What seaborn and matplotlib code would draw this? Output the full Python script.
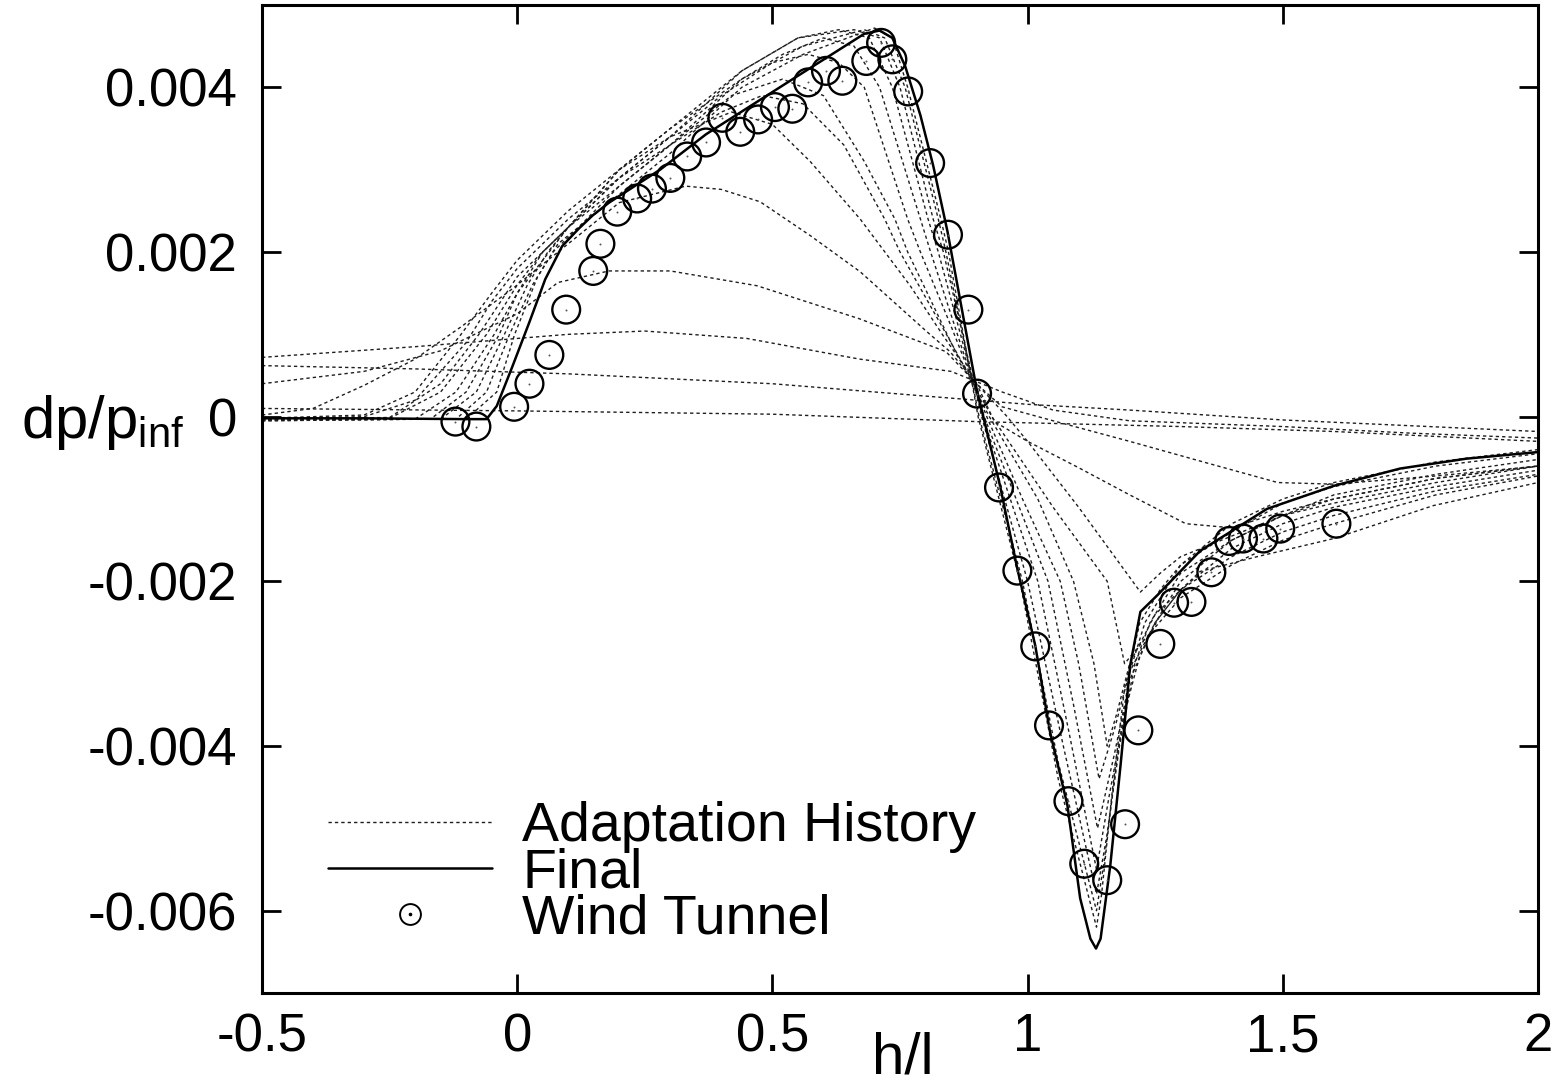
import numpy as np
import pandas as pd
import matplotlib
matplotlib.use("Agg")
import matplotlib.pyplot as plt
import seaborn as sns
from matplotlib.lines import Line2D
from matplotlib.legend_handler import HandlerTuple

# ---------------- data ----------------
final_x = [-0.5, -0.3, -0.1, -0.06, -0.04, -0.01, 0.024, 0.055, 0.088, 0.12, 0.147, 0.18, 0.28,
           0.37, 0.55, 0.68, 0.71, 0.735, 0.76, 0.79, 0.815, 0.843, 0.9, 0.946, 0.98, 1.015,
           1.044, 1.078, 1.103, 1.123, 1.134, 1.143, 1.162, 1.182, 1.201, 1.221, 1.254, 1.338,
           1.469, 1.6, 1.73, 1.86, 2.0]
final_y = [-0.00002, -0.00002, -0.00003, -0.00003, 0.00013, 0.0006, 0.00115, 0.00167, 0.00207,
           0.00228, 0.00244, 0.0026, 0.0030, 0.00343, 0.00414, 0.00465, 0.00469, 0.0046, 0.00426,
           0.00366, 0.00305, 0.00225, 0.00034, -0.00084, -0.00185, -0.00278, -0.00383, -0.00472,
           -0.00585, -0.00634, -0.00646, -0.00634, -0.00545, -0.00424, -0.00302, -0.00237,
           -0.00217, -0.00163, -0.00112, -0.00084, -0.00063, -0.00051, -0.00043]

wt_x = [-0.121, -0.080, -0.006, 0.024, 0.063, 0.096, 0.149, 0.163, 0.196, 0.235, 0.264, 0.300,
        0.333, 0.370, 0.402, 0.437, 0.472, 0.505, 0.539, 0.570, 0.605, 0.637, 0.684, 0.713,
        0.735, 0.766, 0.809, 0.844, 0.884, 0.901, 0.944, 0.980, 1.015, 1.042, 1.080, 1.111,
        1.156, 1.191, 1.217, 1.260, 1.287, 1.321, 1.360, 1.395, 1.422, 1.462, 1.495, 1.605]
wt_y = [-0.00006, -0.00012, 0.00012, 0.0004, 0.00075, 0.0013, 0.00177, 0.0021, 0.00249, 0.00265,
        0.00277, 0.0029, 0.00316, 0.00333, 0.00363, 0.00346, 0.00361, 0.00376, 0.00374, 0.00406,
        0.0042, 0.00408, 0.00432, 0.00454, 0.00434, 0.00395, 0.00308, 0.00221, 0.0013, 0.00028,
        -0.00086, -0.00187, -0.00279, -0.00375, -0.00467, -0.00543, -0.00563, -0.00495, -0.00381,
        -0.00276, -0.00226, -0.00225, -0.00189, -0.00151, -0.00148, -0.00148, -0.00136, -0.0013]

# adaptation history (one pair of lists per intermediate solution)
h1_x = [-0.5, 0.0, 0.5, 0.9, 1.3, 1.6, 2.0]
h1_y = [0.00010, 0.00007, 0.00003, -0.00006, -0.00012, -0.00018, -0.00030]

h2_x = [-0.5, -0.2, 0.1, 0.5, 0.86, 1.0, 1.2, 1.5, 2.0]
h2_y = [0.00062, 0.00058, 0.00052, 0.00040, 0.00022, 0.00015, 0.00008, -0.00004, -0.00018]

h3_x = [-0.5, -0.2, 0.1, 0.25, 0.45, 0.67, 0.85, 0.95, 1.05, 1.2, 1.5, 1.75, 2.0]
h3_y = [0.00072, 0.00085, 0.00100, 0.00104, 0.00095, 0.00070, 0.00055, 0.00030, 0.00008,
        -0.00005, -0.00012, -0.00020, -0.00026]

h4_x = [-0.5, -0.3, -0.15, 0.0, 0.08, 0.18, 0.3, 0.47, 0.67, 0.84, 0.9, 0.95, 1.05, 1.2, 1.35,
        1.49, 1.6, 1.8, 2.0]
h4_y = [0.0004, 0.00055, 0.0008, 0.00125, 0.00163, 0.00177, 0.00177, 0.00159, 0.00119, 0.00079,
        0.0004, 0.00012, -0.00005, -0.0003, -0.00056, -0.0008, -0.00082, -0.00072, -0.0006]

h5_x = [-0.5, -0.4, -0.3, -0.2, -0.108, -0.01, 0.1, 0.2, 0.33, 0.4, 0.476, 0.574, 0.672, 0.803,
        0.848, 0.9, 0.935, 1.0, 1.1, 1.2, 1.31, 1.4, 1.5, 1.6, 1.8, 2.0]
h5_y = [0.00002, 0.0001, 0.00038, 0.0007, 0.0011, 0.00155, 0.0021, 0.0026, 0.0028, 0.00276,
        0.00261, 0.0022, 0.00176, 0.00103, 0.00079, 0.0004, -0.00006, -0.0003, -0.00062, -0.00095,
        -0.0013, -0.00135, -0.00115, -0.001, -0.00075, -0.0006]

h6_x = [-0.5, -0.3, -0.2, -0.11, -0.05, 0.0, 0.05, 0.1, 0.2, 0.3, 0.42, 0.5, 0.574, 0.672, 0.77,
        0.835, 0.9, 0.96, 1.0, 1.1, 1.221, 1.26, 1.3, 1.4, 1.5, 1.6, 1.8, 2.0]
h6_y = [-0.00002, 0.00002, 0.0003, 0.001, 0.0015, 0.0019, 0.0022, 0.0025, 0.003, 0.0034, 0.0037,
        0.00355, 0.0031, 0.0024, 0.00159, 0.00098, 0.0004, 0.0, -0.0003, -0.0011, -0.00213,
        -0.0019, -0.0017, -0.00145, -0.0012, -0.00105, -0.0008, -0.0006]

h7_x = [-0.5, -0.3, -0.2, -0.1, -0.05, 0.0, 0.1, 0.2, 0.3, 0.4, 0.48, 0.56, 0.64, 0.72, 0.75,
        0.85, 0.93, 1.05, 1.156, 1.19, 1.23, 1.3, 1.4, 1.5, 1.6, 1.8, 2.0]
h7_y = [-0.00002, 0.0, 0.0002, 0.0009, 0.0014, 0.0018, 0.0024, 0.0029, 0.0033, 0.0037, 0.0039,
        0.0038, 0.0033, 0.0024, 0.002, 0.0009, 0.0, -0.0011, -0.002, -0.003, -0.0027, -0.0022,
        -0.0018, -0.0015, -0.0013, -0.00095, -0.00072]

h8_x = [-0.5, -0.25, -0.15, -0.075, 0.0, 0.1, 0.2, 0.3, 0.42, 0.52, 0.6, 0.68, 0.74, 0.765, 0.85,
        0.925, 1.02, 1.09, 1.13, 1.156, 1.175, 1.2, 1.25, 1.338, 1.45, 1.6, 1.795, 2.0]
h8_y = [-0.00003, -0.00001, 0.0004, 0.001, 0.0017, 0.0023, 0.0028, 0.0033, 0.0039, 0.0041, 0.0039,
        0.0031, 0.0024, 0.002, 0.0009, 0.0, -0.001, -0.002, -0.003, -0.004, -0.0036, -0.003,
        -0.0024, -0.00188, -0.0017, -0.00148, -0.00108, -0.0008]

h9_x = [-0.5, -0.25, -0.15, -0.06, 0.0, 0.05, 0.1, 0.2, 0.3, 0.4, 0.5, 0.57, 0.63, 0.68, 0.765,
        0.79, 0.85, 0.92, 0.99, 1.064, 1.1, 1.14, 1.17, 1.2, 1.25, 1.3, 1.4, 1.5, 1.6, 1.8, 2.0]
h9_y = [-0.00004, -0.00002, 0.0003, 0.001, 0.0016, 0.002, 0.0023, 0.0029, 0.0034, 0.0039, 0.0043,
        0.0044, 0.0043, 0.004, 0.0024, 0.002, 0.0011, 0.0, -0.001, -0.002, -0.003, -0.0044,
        -0.0038, -0.0031, -0.0025, -0.0021, -0.0017, -0.0014, -0.0012, -0.0009, -0.0007]

h10_x = [-0.5, -0.2, -0.12, -0.045, 0.0, 0.05, 0.1, 0.2, 0.3, 0.44, 0.52, 0.6, 0.66, 0.71, 0.79,
         0.81, 0.915, 1.04, 1.09, 1.137, 1.17, 1.2, 1.25, 1.3, 1.4, 1.5, 1.6, 1.8, 2.0]
h10_y = [-0.00005, -0.00003, 0.0003, 0.001, 0.0015, 0.0019, 0.0023, 0.003, 0.0035, 0.0041, 0.0044,
         0.0046, 0.0045, 0.004, 0.0024, 0.002, 0.0, -0.002, -0.0035, -0.005, -0.0041, -0.0032,
         -0.0025, -0.0021, -0.0016, -0.0013, -0.0011, -0.00085, -0.00065]

h11_x = [-0.5, -0.17, -0.1, -0.035, 0.0, 0.05, 0.1, 0.2, 0.3, 0.44, 0.55, 0.63, 0.69, 0.735, 0.805,
         0.825, 0.912, 1.02, 1.08, 1.135, 1.16, 1.19, 1.22, 1.26, 1.3, 1.4, 1.5, 1.6, 1.8, 2.0]
h11_y = [-0.00005, -0.00003, 0.0003, 0.001, 0.0015, 0.002, 0.0023, 0.003, 0.0035, 0.0042, 0.0046,
         0.0047, 0.0046, 0.004, 0.0024, 0.002, 0.0, -0.002, -0.0038, -0.0055, -0.0046, -0.0036,
         -0.0029, -0.0024, -0.002, -0.0015, -0.0012, -0.001, -0.00075, -0.0006]

h12_x = [-0.5, -0.15, -0.08, -0.025, 0.02, 0.06, 0.1, 0.2, 0.3, 0.44, 0.55, 0.66, 0.71, 0.75,
         0.815, 0.835, 0.91, 1.0, 1.07, 1.135, 1.155, 1.18, 1.21, 1.24, 1.3, 1.4, 1.5, 1.6, 1.8, 2.0]
h12_y = [-0.00004, -0.00003, 0.0003, 0.001, 0.0016, 0.002, 0.0023, 0.0029, 0.0034, 0.0042, 0.0046,
         0.0047, 0.0046, 0.004, 0.0024, 0.002, 0.0, -0.002, -0.004, -0.0058, -0.0051, -0.004,
         -0.003, -0.0025, -0.0019, -0.0015, -0.0012, -0.00095, -0.0007, -0.00052]

h13_x = [-0.5, -0.12, -0.06, -0.015, 0.03, 0.07, 0.12, 0.2, 0.3, 0.44, 0.56, 0.68, 0.72, 0.76,
         0.825, 0.84, 0.905, 0.99, 1.06, 1.135, 1.15, 1.17, 1.2, 1.23, 1.3, 1.4, 1.5, 1.6, 1.8, 2.0]
h13_y = [-0.00003, -0.00003, 0.0003, 0.001, 0.0016, 0.002, 0.0023, 0.0028, 0.0033, 0.0041, 0.0045,
         0.0047, 0.0046, 0.004, 0.0024, 0.002, 0.0, -0.002, -0.0042, -0.006, -0.0054, -0.0044,
         -0.0031, -0.0025, -0.0018, -0.0014, -0.00105, -0.00085, -0.0006, -0.00045]

h14_x = [-0.5, -0.1, -0.04, -0.005, 0.04, 0.08, 0.12, 0.2, 0.3, 0.44, 0.56, 0.70, 0.735, 0.765,
         0.83, 0.845, 0.903, 0.985, 1.06, 1.135, 1.145, 1.165, 1.19, 1.22, 1.26, 1.3, 1.4, 1.5,
         1.6, 1.8, 2.0]
h14_y = [-0.00003, -0.00003, 0.0003, 0.001, 0.0017, 0.0021, 0.0023, 0.0027, 0.0032, 0.004, 0.0044,
         0.00472, 0.0046, 0.004, 0.0024, 0.002, 0.0, -0.002, -0.0044, -0.0062, -0.0058, -0.0046,
         -0.0033, -0.0025, -0.0021, -0.0018, -0.0013, -0.001, -0.0008, -0.00055, -0.0004]

history = [(h1_x, h1_y), (h2_x, h2_y), (h3_x, h3_y), (h4_x, h4_y), (h5_x, h5_y), (h6_x, h6_y),
           (h7_x, h7_y), (h8_x, h8_y), (h9_x, h9_y), (h10_x, h10_y), (h11_x, h11_y),
           (h12_x, h12_y), (h13_x, h13_y), (h14_x, h14_y)]

x_ticks = [-0.5, 0, 0.5, 1, 1.5, 2]
x_tick_labels = ["-0.5", "0", "0.5", "1", "1.5", "2"]
y_ticks = [-0.006, -0.004, -0.002, 0, 0.002, 0.004]
y_tick_labels = ["-0.006", "-0.004", "-0.002", "0", "0.002", "0.004"]

legend_labels = ["Adaptation History", "Final", "Wind Tunnel"]

# ---------------- figure ----------------
sns.set_theme(style="white")
plt.rcParams["font.family"] = ["Liberation Sans", "DejaVu Sans"]
plt.rcParams["mathtext.fontset"] = "custom"
plt.rcParams["mathtext.rm"] = "Liberation Sans"
plt.rcParams["mathtext.it"] = "Liberation Sans"
plt.rcParams["mathtext.default"] = "regular"
for key in ["text.color", "axes.labelcolor", "xtick.color", "ytick.color"]:
    plt.rcParams[key] = "black"

W, H = 1567, 1084
fig = plt.figure(figsize=(W / 100, H / 100), dpi=100)
ax = fig.add_axes([262 / W, 1 - 993 / H, (1538 - 262) / W, (993 - 5) / H])

hist_df = pd.concat(
    [pd.DataFrame({"h": hx, "dp": hy, "run": i}) for i, (hx, hy) in enumerate(history)],
    ignore_index=True)

dash_style = (0, (2.4, 2.2))
sns.lineplot(data=hist_df, x="h", y="dp", units="run", estimator=None, color="#1e1e1e",
             linewidth=1.0, linestyle=dash_style, ax=ax, legend=False)
sns.lineplot(x=final_x, y=final_y, sort=False, estimator=None, color="black", linewidth=1.8,
             ax=ax, legend=False)
sns.scatterplot(x=wt_x, y=wt_y, marker="o", s=400, facecolors="none", edgecolor="black",
                linewidth=1.7, ax=ax, legend=False, zorder=3)
sns.scatterplot(x=wt_x, y=wt_y, marker="o", s=2, color="#555555", linewidth=0, ax=ax,
                legend=False, zorder=3)

ax.set_xlim(-0.5, 2.0)
ax.set_ylim(-0.007, 0.005)
ax.set_xticks(x_ticks)
ax.set_xticklabels(x_tick_labels)
ax.set_yticks(y_ticks)
ax.set_yticklabels(y_tick_labels)
ax.set_xlabel("")
ax.set_ylabel("")
ax.tick_params(axis="both", direction="in", length=14, width=2, colors="black",
               bottom=True, left=True, top=True, right=True, labelsize=38)
ax.tick_params(axis="y", pad=18)
ax.tick_params(axis="x", pad=14)
for sp in ax.spines.values():
    sp.set_visible(True)
    sp.set_linewidth(2.2)
    sp.set_color("black")
ax.grid(False)

# axis labels (placed like the gnuplot original)
fig.text(184 / W, 1 - 438 / H, r"dp/p$_{inf}$", ha="right", va="baseline", fontsize=43)
fig.text(903 / W, 1 - 1074 / H, "h/l", ha="center", va="baseline", fontsize=42)

# legend
h_hist = Line2D([], [], color="#1e1e1e", linewidth=1.0, linestyle=dash_style)
h_final = Line2D([], [], color="black", linewidth=1.8)
h_wt = (Line2D([], [], marker="o", markersize=15, markerfacecolor="none",
               markeredgecolor="black", markeredgewidth=1.4, linestyle=""),
        Line2D([], [], marker="o", markersize=1.6, color="black", linestyle=""))
leg = ax.legend([h_hist, h_final, h_wt], legend_labels,
                handler_map={tuple: HandlerTuple(ndivide=1, pad=0)},
                loc="upper left", bbox_to_anchor=((328 - 262) / 1276, (993 - 801) / 988),
                frameon=False, fontsize=40, borderpad=0, borderaxespad=0,
                handlelength=2.95, handletextpad=0.55, labelspacing=-0.1)

fig.savefig("out.png", dpi=100)
